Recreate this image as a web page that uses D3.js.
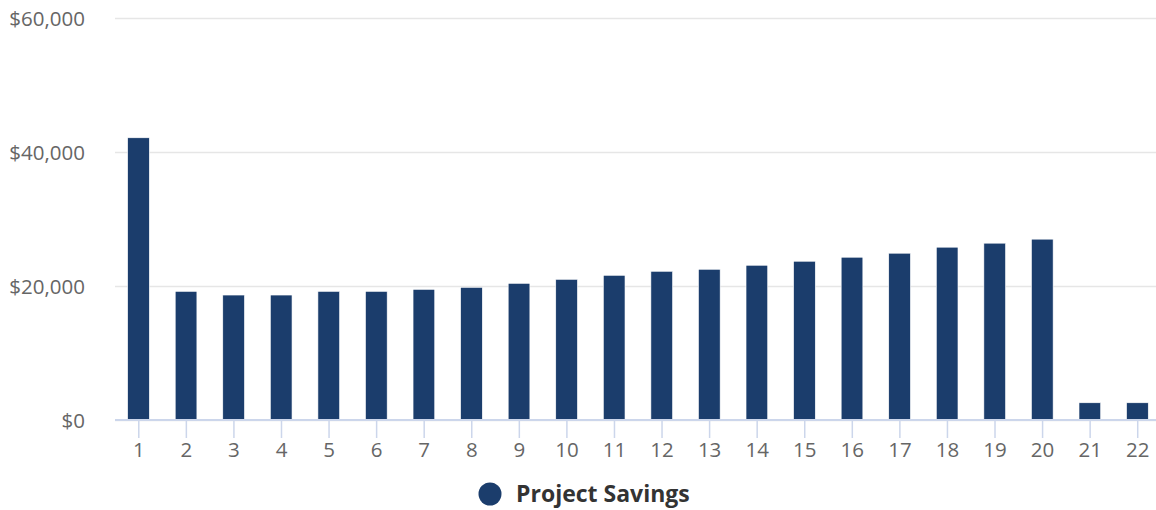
<!DOCTYPE html>
<html>
<head>
<meta charset="utf-8">
<script src="https://cdn.jsdelivr.net/npm/d3@7"></script>
<style>
  body { margin: 0; background: #fff; }
  svg { display: block; font-family: "Open Sans", sans-serif; }
</style>
</head>
<body>
<div id="chart"></div>
<script>
// chart data
const categories = ["1","2","3","4","5","6","7","8","9","10","11","12","13","14","15","16","17","18","19","20","21","22"];
const savings = [42100, 19150, 18600, 18600, 19150, 19150, 19450, 19750, 20350, 20950, 21550, 22150, 22450, 23050, 23650, 24250, 24850, 25750, 26350, 26950, 2500, 2500];
const yTicks = [0, 20000, 40000, 60000];
const seriesName = "Project Savings";

function drawChart() {
    var width = 1156, height = 510;
    var svg = d3.select("#chart")
        .append("svg")
        .attr("width", width)
        .attr("height", height);

    // plot area
    var plotLeft = 115, plotRight = 1161.5, plotTop = 18, plotBottom = 419.5;

    var x = d3.scaleBand().domain(categories).range([plotLeft, plotRight]).padding(0);
    var y = d3.scaleLinear().domain([0, 60000]).range([plotBottom, plotTop]);

    // gridlines
    svg.append("g")
        .selectAll("line")
        .data(yTicks)
        .join("line")
        .attr("x1", plotLeft)
        .attr("x2", width)
        .attr("y1", d => Math.round(y(d)) + 0.5)
        .attr("y2", d => Math.round(y(d)) + 0.5)
        .attr("stroke", "#e6e6e6")
        .attr("stroke-width", 1.5);

    // y labels
    svg.append("g")
        .selectAll("text")
        .data(yTicks)
        .join("text")
        .attr("x", 85)
        .attr("y", d => y(d) + 8)
        .attr("text-anchor", "end")
        .attr("fill", "#666666")
        .attr("font-size", "20.5px")
        .text(d => "$" + d3.format(",")(d));

    // bars
    var barW = x.bandwidth() * 0.456;
    svg.append("g")
        .selectAll("rect")
        .data(savings)
        .join("rect")
        .attr("x", (d, i) => x(categories[i]) + x.bandwidth() / 2 - barW / 2 - 0.3)
        .attr("y", d => y(d))
        .attr("width", barW)
        .attr("height", d => plotBottom - y(d))
        .attr("fill", "#1b3d6c")
        .attr("stroke", "#ffffff")
        .attr("stroke-width", 0.6);

    // x axis
    var xAxis = svg.append("g")
        .attr("transform", `translate(0,${plotBottom})`)
        .call(d3.axisBottom(x).tickSize(18.5).tickPadding(4));
    xAxis.select(".domain").remove();
    xAxis.selectAll(".tick line").attr("stroke", "#ccd6eb").attr("stroke-width", 1.5);
    xAxis.selectAll(".tick text")
        .attr("fill", "#666666")
        .attr("font-size", "20.5px")
        .attr("font-family", "Open Sans, sans-serif");

    svg.append("line")
        .attr("x1", plotLeft)
        .attr("x2", width)
        .attr("y1", plotBottom + 0.5)
        .attr("y2", plotBottom + 0.5)
        .attr("stroke", "#ccd6eb")
        .attr("stroke-width", 2);

    // legend
    var legend = svg.append("g").attr("transform", "translate(490,494)");
    legend.append("circle")
        .attr("r", 11.5)
        .attr("fill", "#1b3d6c");
    legend.append("text")
        .attr("x", 26)
        .attr("y", 8)
        .attr("fill", "#333333")
        .attr("font-size", "23px")
        .attr("font-weight", "bold")
        .text(seriesName);
}
drawChart();
</script>
</body>
</html>
